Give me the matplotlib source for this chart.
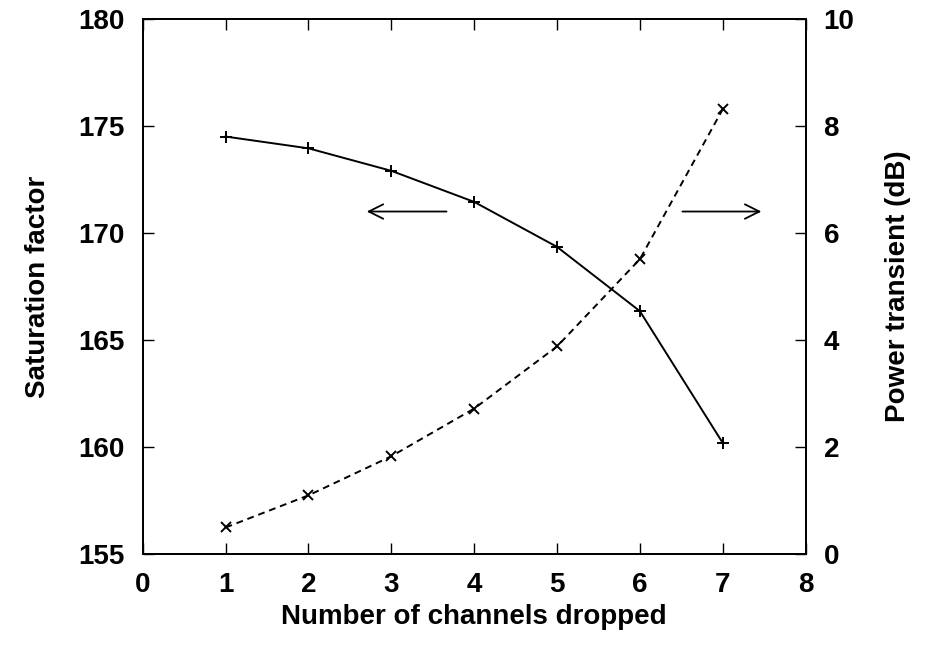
import matplotlib
matplotlib.use("Agg")
import matplotlib.pyplot as plt

plt.rcParams['font.family'] = ['Liberation Sans', 'DejaVu Sans']
plt.rcParams['font.weight'] = 'bold'

# channels dropped vs. saturation factor (left) and power transient (right)
channels = [1, 2, 3, 4, 5, 6, 7]
saturation = [174.5, 173.95, 172.9, 171.45, 169.35, 166.35, 160.2]
transient_db = [0.5, 1.1, 1.83, 2.72, 3.88, 5.51, 8.31]

x_ticks = [0, 1, 2, 3, 4, 5, 6, 7, 8]
left_ticks = [155, 160, 165, 170, 175, 180]
right_ticks = [0, 2, 4, 6, 8, 10]

fig = plt.figure(figsize=(9.27, 6.46), dpi=100)
ax = fig.add_axes([0.154, 0.142, 0.715, 0.829])
ax2 = ax.twinx()

ax.plot(channels, saturation, color='black', lw=1.4, marker='+', ms=9, mew=1.4)
ax2.plot(channels, transient_db, color='black', lw=1.4, ls=(0, (3.5, 2.5)),
         marker='x', ms=7.5, mew=1.4)

ax.set_xlim(0, 8)
ax.set_ylim(155, 180)
ax2.set_ylim(0, 10)
ax.set_xticks(x_ticks)
ax.set_yticks(left_ticks)
ax2.set_yticks(right_ticks)

ax.tick_params(axis='x', direction='in', length=8, width=1, top=True,
               labelsize=20, pad=13)
ax.tick_params(axis='y', direction='in', length=8, width=1,
               labelsize=20, pad=13)
ax2.tick_params(axis='y', direction='in', length=8, width=1,
                labelsize=20, pad=13)
for a in (ax, ax2):
    for s in a.spines.values():
        s.set_linewidth(1.3)

ax.set_xlabel('Number of channels dropped', fontsize=20, fontweight='bold',
              labelpad=4)
ax.set_ylabel('Saturation factor', fontsize=20, fontweight='bold', labelpad=20)
ax2.set_ylabel('Power transient (dB)', fontsize=20, fontweight='bold',
               labelpad=22)

# arrows pointing to the axis each curve belongs to
arrow = dict(arrowstyle='->', color='black', lw=1.3, mutation_scale=26)
ax.annotate('', xy=(2.67, 171), xytext=(3.7, 171), arrowprops=arrow)
ax.annotate('', xy=(7.5, 171), xytext=(6.48, 171), arrowprops=arrow)

fig.savefig('out.png', dpi=100)
